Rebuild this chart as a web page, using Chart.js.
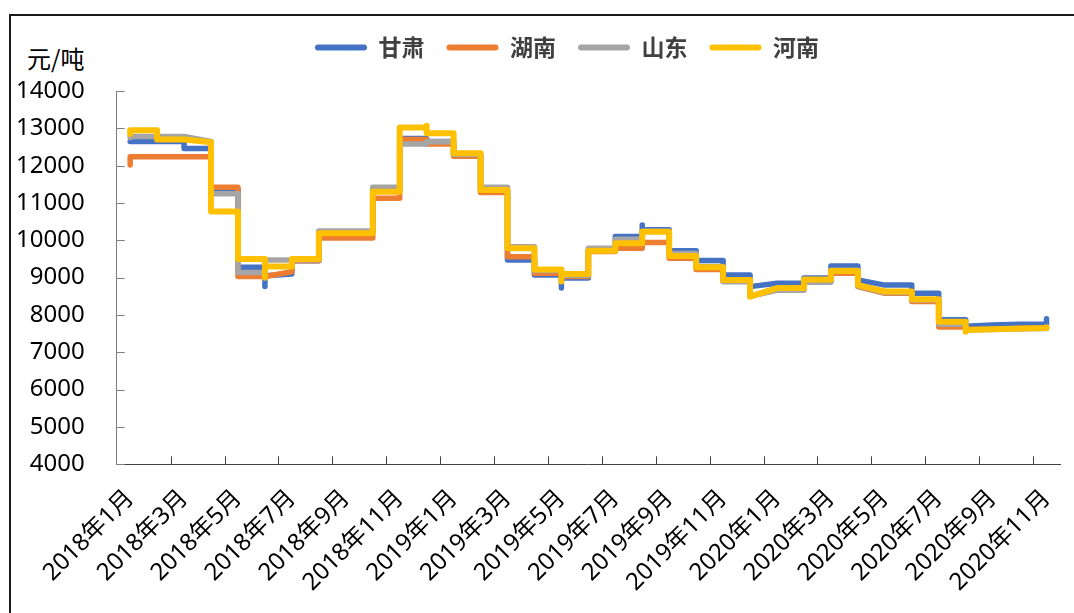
<!DOCTYPE html>
<html>
<head>
<meta charset="utf-8">
<script src="https://cdn.jsdelivr.net/npm/chart.js@4"></script>
<style>
  html, body { margin: 0; padding: 0; background: #fff; }
  #wrap { position: relative; width: 1074px; height: 613px; overflow: hidden; }
  #frame { position: absolute; left: 9px; top: 14px; width: 1100px; height: 640px;
           border-left: 2px solid #1a1a1a; border-top: 2px solid #1a1a1a; }
  #unit { position: absolute; left: 27px; top: 46px; font: 24px/1 "Noto Sans CJK SC", sans-serif; color: #000; }
  canvas { position: absolute; left: 0; top: 0; }
</style>
</head>
<body>
<div id="wrap">
  <div id="frame"></div>
  <div id="unit">元/吨</div>
  <canvas id="priceChart" width="1074" height="613"></canvas>
</div>
<script>
// Month categories (each month can hold several readings, plotted at the same x)
const months = [
  '2018年1月', '2018年2月', '2018年3月', '2018年4月', '2018年5月', '2018年6月',
  '2018年7月', '2018年8月', '2018年9月', '2018年10月', '2018年11月', '2018年12月',
  '2019年1月', '2019年2月', '2019年3月', '2019年4月', '2019年5月', '2019年6月',
  '2019年7月', '2019年8月', '2019年9月', '2019年10月', '2019年11月', '2019年12月',
  '2020年1月', '2020年2月', '2020年3月', '2020年4月', '2020年5月', '2020年6月',
  '2020年7月', '2020年8月', '2020年9月', '2020年10月', '2020年11月'
];

const seriesNames = ['甘肃', '湖南', '山东', '河南'];
const seriesColors = ['#4472C4', '#ED7D31', '#A5A5A5', '#FFC000'];

// Readings per month, in order (元/吨)
const gansu = [
  [12650], [12650], [12650, 12460], [12460, 11340], [11340, 9280], [9280, 8760, 9050],
  [9100, 9450], [9450, 10200], [10200], [10200, 11350], [11350, 12730], [12730, 12650],
  [12650, 12290], [12290, 11320], [11320, 9470], [9470, 9070], [9070, 8720, 8990], [8990, 9720],
  [9720, 10100], [10100, 10410, 10280], [10280, 9720], [9720, 9460], [9460, 9070], [9070, 8760],
  [8850], [8850, 8990], [8990, 9310], [9310, 8940], [8800], [8800, 8580],
  [8580, 7870], [7870, 7700], [7730], [7750], [7760, 7900]
];
const hunan = [
  [12020, 12240], [12240], [12240], [12240, 11420], [11420, 9030], [9030],
  [9160, 9450], [9450, 10060], [10060], [10060, 11130], [11130, 12700], [12700, 12580],
  [12580, 12250], [12250, 11280], [11280, 9560], [9560, 9120], [9120, 9030], [9030, 9700],
  [9700, 9790], [9790, 9940], [9940, 9520], [9520, 9220], [9220, 8920], [8920, 8500],
  [8680], [8680, 8900], [8900, 9120], [9120, 8760], [8580], [8580, 8360],
  [8360, 7680], [7680, 7620], [7620], [7640], [7650]
];
const shandong = [
  [12750, 12780], [12780], [12780], [12650, 11250], [11250, 9140], [9140, 9470],
  [9470], [9470, 10250], [10250], [10250, 11420], [11420, 12580], [12580, 12640],
  [12640, 12300], [12300, 11420], [11420, 9830], [9830, 9190], [9190, 9060], [9060, 9790],
  [9790, 10030], [10030, 10240], [10240, 9650], [9650, 9300], [9300, 8890], [8890, 8510],
  [8660], [8660, 8880], [8880, 9200], [9200, 8780], [8600], [8600, 8400],
  [8400, 7750], [7750, 7600], [7610], [7630], [7640]
];
const henan = [
  [12850, 12950], [12950, 12700], [12700], [12630, 10770], [10770, 9500], [9500, 9000, 9300],
  [9300, 9500], [9500, 10190], [10190], [10190, 11300], [11300, 13020], [13020, 13070, 12870],
  [12870, 12330], [12330, 11350], [11350, 9790], [9790, 9220], [9220, 8900, 9100], [9100, 9720],
  [9720, 9920], [9920, 10230], [10230, 9580], [9580, 9280], [9280, 8940], [8940, 8490],
  [8720], [8720, 8950], [8950, 9180], [9180, 8800], [8630], [8630, 8420],
  [8420, 7820], [7820, 7550, 7600], [7620], [7640], [7650, 7670]
];

const yTicks = [4000, 5000, 6000, 7000, 8000, 9000, 10000, 11000, 12000, 13000, 14000];

function toPoints(monthly) {
  const pts = [];
  monthly.forEach((vals, i) => vals.forEach(v => pts.push({ x: months[i], y: v })));
  return pts;
}

const allSeries = [gansu, hunan, shandong, henan];

const datasets = allSeries.map((s, i) => ({
  label: seriesNames[i],
  data: toPoints(s),
  borderColor: seriesColors[i],
  backgroundColor: seriesColors[i],
  borderWidth: i === 3 ? 6 : 5.5,
  borderCapStyle: 'round',
  borderJoinStyle: 'round',
  pointRadius: 0,
  tension: 0,
  order: 4 - i   // later series drawn on top, like the original
}));

// legend box: fixed height so the plot top sits at 14000 = y 91, and nudged right
const legendPlace = {
  id: 'legendPlace',
  beforeInit(chart) {
    const fit = chart.legend.fit;
    chart.legend.fit = function () {
      fit.call(this);
      this.height = 77;
    };
  },
  afterLayout(chart) {
    chart.legend.left += 37;
    chart.legend.right += 37;
  }
};

// short tick marks drawn inside the plot, like Excel's "inside" ticks
const insideTicks = {
  id: 'insideTicks',
  beforeDatasetsDraw(chart) {
    const { ctx, scales: { x, y }, chartArea } = chart;
    ctx.save();
    ctx.lineWidth = 1;
    ctx.strokeStyle = '#808080';
    y.ticks.forEach((t, i) => {
      const py = Math.round(y.getPixelForTick(i)) + 0.5;
      ctx.beginPath();
      ctx.moveTo(chartArea.left, py);
      ctx.lineTo(chartArea.left + 8, py);
      ctx.stroke();
    });
    const half = (x.getPixelForValue(1) - x.getPixelForValue(0)) / 2;
    ctx.strokeStyle = '#404040';
    for (let i = 2; i < months.length; i += 2) {
      const px = Math.round(x.getPixelForValue(i) - half) + 0.5;
      ctx.beginPath();
      ctx.moveTo(px, chartArea.bottom);
      ctx.lineTo(px, chartArea.bottom - 8);
      ctx.stroke();
    }
    ctx.restore();
  }
};

new Chart(document.getElementById('priceChart'), {
  type: 'line',
  data: { labels: months, datasets: datasets },
  plugins: [legendPlace, insideTicks],
  options: {
    responsive: false,
    animation: false,
    layout: { padding: { top: 14, right: 14, bottom: 0, left: 0 } },
    plugins: {
      legend: {
        display: true,
        position: 'top',
        labels: {
          boxWidth: 52,
          boxHeight: 6,
          padding: 22,
          color: '#404040',
          font: { family: '"Noto Sans CJK SC", sans-serif', size: 23, weight: 'bold' },
          sort: (a, b) => a.datasetIndex - b.datasetIndex,
          generateLabels(chart) {
            return chart.data.datasets.map((ds, i) => ({
              text: ds.label,
              fillStyle: ds.borderColor,
              strokeStyle: ds.borderColor,
              lineWidth: 0,
              datasetIndex: i,
              borderRadius: 3,
              fontColor: '#404040'
            }));
          },
          useBorderRadius: true,
          borderRadius: 3
        }
      },
      tooltip: { enabled: false }
    },
    scales: {
      x: {
        type: 'category',
        offset: true,
        grid: { display: false, offset: true },
        border: { display: true, color: '#404040', width: 1 },
        ticks: {
          autoSkip: false,
          maxRotation: 45,
          minRotation: 45,
          padding: 12,
          color: '#000',
          font: { family: '"Noto Sans", "Noto Sans CJK SC", sans-serif', size: 24 },
          callback(val, i) { return i % 2 === 0 ? this.getLabelForValue(val) : ''; }
        },
        afterFit(scale) {
          scale.height = 613 - 464.3;
          scale.paddingLeft = 0;
          scale.paddingRight = 0;
        }
      },
      y: {
        min: 4000,
        max: 14000,
        afterBuildTicks(scale) { scale.ticks = yTicks.map(v => ({ value: v })); },
        grid: { display: false },
        border: { display: true, color: '#808080', width: 1 },
        ticks: {
          padding: 24,
          color: '#000',
          font: { family: '"Noto Sans", sans-serif', size: 24 },
          callback: v => String(v)
        },
        afterFit(scale) { scale.width = 116.7; }
      }
    }
  }
});
</script>
</body>
</html>
